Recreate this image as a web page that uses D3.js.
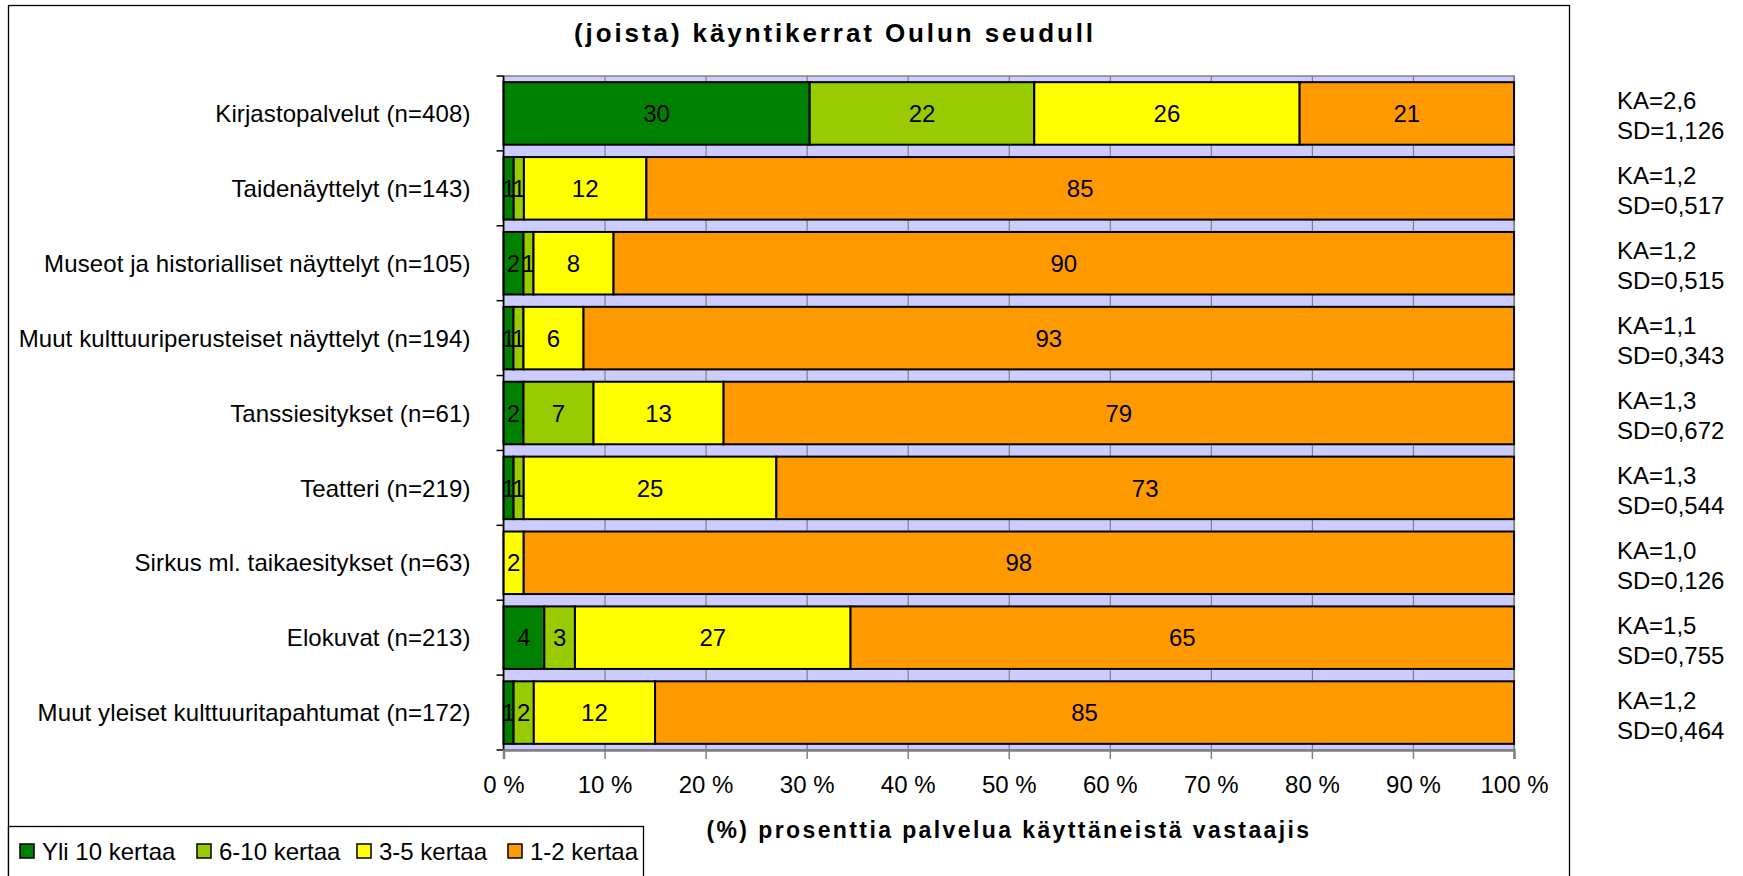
<!DOCTYPE html>
<html>
<head>
<meta charset="utf-8">
<script src="https://cdn.jsdelivr.net/npm/d3@7"></script>
<style>
  body { margin: 0; background: #fff; }
  svg { display: block; font-family: "Liberation Sans", Arial, sans-serif; }
</style>
</head>
<body>
<div id="chart"></div>
<script>
const categories = [
  "Kirjastopalvelut (n=408)",
  "Taidenäyttelyt (n=143)",
  "Museot ja historialliset näyttelyt (n=105)",
  "Muut kulttuuriperusteiset näyttelyt (n=194)",
  "Tanssiesitykset (n=61)",
  "Teatteri (n=219)",
  "Sirkus ml. taikaesitykset (n=63)",
  "Elokuvat (n=213)",
  "Muut yleiset kulttuuritapahtumat (n=172)"
];
const seriesNames = ["Yli 10 kertaa", "6-10 kertaa", "3-5 kertaa", "1-2 kertaa"];
const seriesColors = ["#008000", "#99CC00", "#FFFF00", "#FF9900"];

const yli10 = [30, 1, 2, 1, 2, 1, 0, 4, 1];
const kertaa6to10 = [22, 1, 1, 1, 7, 1, 0, 3, 2];
const kertaa3to5 = [26, 12, 8, 6, 13, 25, 2, 27, 12];
const kertaa1to2 = [21, 85, 90, 93, 79, 73, 98, 65, 85];

const kaValues = ["2,6", "1,2", "1,2", "1,1", "1,3", "1,3", "1,0", "1,5", "1,2"];
const sdValues = ["1,126", "0,517", "0,515", "0,343", "0,672", "0,544", "0,126", "0,755", "0,464"];

const xTickValues = [0, 10, 20, 30, 40, 50, 60, 70, 80, 90, 100];

const chartTitle = "(joista) käyntikerrat Oulun seudull";
const xTitle = "(%) prosenttia palvelua käyttäneistä vastaajis";

const width = 1743;
const height = 876;

const svg = d3.select("#chart").append("svg")
  .attr("width", width)
  .attr("height", height);

// table for the stack
const seriesValues = [yli10, kertaa6to10, kertaa3to5, kertaa1to2];
const table = categories.map((cat, i) => {
  const row = { category: cat };
  seriesNames.forEach((s, j) => { row[s] = seriesValues[j][i]; });
  return row;
});

const stacked = d3.stack()
  .keys(seriesNames)
  .offset(d3.stackOffsetExpand)(table);

const plot = { left: 503.5, right: 1514, top: 76, bottom: 750 };

const x = d3.scaleLinear().domain([0, 1]).range([plot.left, plot.right]);
const xPct = d3.scaleLinear().domain([0, 100]).range([plot.left, plot.right]);
const y = d3.scaleBand()
  .domain(categories)
  .range([plot.top, plot.bottom])
  .paddingInner(0.165)
  .paddingOuter(0.0825);

// outer frame
svg.append("rect")
  .attr("x", 8.5).attr("y", 5.5)
  .attr("width", 1561).attr("height", 900)
  .attr("fill", "none").attr("stroke", "#000").attr("stroke-width", 1.3);

// plot background
svg.append("rect")
  .attr("x", plot.left).attr("y", plot.top)
  .attr("width", plot.right - plot.left).attr("height", plot.bottom - plot.top)
  .attr("fill", "#CCCCFF")
  .attr("stroke", "#808080").attr("stroke-width", 1.5);

// vertical grid
svg.append("g")
  .attr("class", "grid")
  .attr("transform", "translate(0," + plot.bottom + ")")
  .call(d3.axisBottom(xPct)
    .tickValues(xTickValues)
    .tickSize(-(plot.bottom - plot.top))
    .tickFormat(""))
  .call(g => g.select(".domain").remove())
  .call(g => g.selectAll("line").attr("stroke", "#808080").attr("stroke-width", 1.2));

// bars
const layers = svg.append("g").attr("class", "charts")
  .selectAll("g")
  .data(stacked)
  .enter()
  .append("g")
  .attr("fill", (d, i) => seriesColors[i]);

layers.selectAll("rect")
  .data(d => d.filter(p => p.data[d.key] > 0))
  .enter()
  .append("rect")
  .attr("x", d => x(d[0]))
  .attr("y", d => y(d.data.category))
  .attr("width", d => x(d[1]) - x(d[0]))
  .attr("height", y.bandwidth())
  .attr("stroke", "#000")
  .attr("stroke-width", 2);

// bar labels
layers.each(function (layer) {
  d3.select(this).selectAll("text")
    .data(layer.filter(p => p.data[layer.key] > 0))
    .enter()
    .append("text")
    .attr("x", d => (x(d[0]) + x(d[1])) / 2)
    .attr("y", d => y(d.data.category) + y.bandwidth() / 2)
    .attr("dy", "0.36em")
    .attr("text-anchor", "middle")
    .attr("fill", "#000")
    .attr("font-size", 24)
    .text(d => d.data[layer.key]);
});

// left axis
const yAxis = svg.append("g")
  .attr("transform", "translate(" + plot.left + ",0)");
yAxis.append("line")
  .attr("y1", plot.top).attr("y2", plot.bottom)
  .attr("stroke", "#000").attr("stroke-width", 1.5);
yAxis.selectAll(".tick")
  .data(d3.range(categories.length + 1))
  .enter()
  .append("line")
  .attr("x1", -7).attr("x2", 0)
  .attr("y1", i => plot.top + i * y.step())
  .attr("y2", i => plot.top + i * y.step())
  .attr("stroke", "#000").attr("stroke-width", 1.5);

yAxis.selectAll("text")
  .data(categories)
  .enter()
  .append("text")
  .attr("x", -33)
  .attr("y", d => y(d) + y.bandwidth() / 2)
  .attr("dy", "0.36em")
  .attr("text-anchor", "end")
  .attr("font-size", 24)
  .attr("letter-spacing", 0.1)
  .attr("fill", "#000")
  .text(d => d);

// bottom axis
const xAxis = svg.append("g")
  .attr("transform", "translate(0," + plot.bottom + ")")
  .call(d3.axisBottom(xPct)
    .tickValues(xTickValues)
    .tickSize(9)
    .tickPadding(17)
    .tickFormat(d => d + " %"));
xAxis.select(".domain").attr("stroke", "#808080").attr("stroke-width", 2.5);
xAxis.selectAll("line").attr("stroke", "#808080").attr("stroke-width", 1.5);
xAxis.selectAll("text")
  .attr("font-size", 24)
  .attr("font-family", "Liberation Sans, Arial, sans-serif")
  .attr("fill", "#000");

// titles
svg.append("text")
  .attr("x", 835).attr("y", 42)
  .attr("text-anchor", "middle")
  .attr("font-size", 26)
  .attr("font-weight", "bold")
  .attr("letter-spacing", 2.9)
  .text(chartTitle);

svg.append("text")
  .attr("x", 1009).attr("y", 838)
  .attr("text-anchor", "middle")
  .attr("font-size", 23)
  .attr("font-weight", "bold")
  .attr("letter-spacing", 2.4)
  .text(xTitle);

// KA / SD stats
const stats = svg.append("g").attr("class", "stats");
categories.forEach((cat, i) => {
  const cy = y(cat) + y.bandwidth() / 2;
  const t = stats.append("text")
    .attr("x", 1617)
    .attr("font-size", 24)
    .attr("fill", "#000");
  t.append("tspan").attr("x", 1617).attr("y", cy - 4).text("KA=" + kaValues[i]);
  t.append("tspan").attr("x", 1617).attr("y", cy + 26).text("SD=" + sdValues[i]);
});

// legend
const legend = svg.append("g").attr("class", "legend");
legend.append("rect")
  .attr("x", 8.5).attr("y", 826.5)
  .attr("width", 635).attr("height", 70)
  .attr("fill", "#fff").attr("stroke", "#000").attr("stroke-width", 1.3);

const legendX = [20, 197, 357, 508];
const item = legend.selectAll(".item")
  .data(seriesNames)
  .enter()
  .append("g")
  .attr("class", "item")
  .attr("transform", (d, i) => "translate(" + legendX[i] + ",851)");
item.append("rect")
  .attr("x", 0).attr("y", -7)
  .attr("width", 14).attr("height", 14)
  .attr("fill", (d, i) => seriesColors[i])
  .attr("stroke", "#000").attr("stroke-width", 1.5);
item.append("text")
  .attr("x", 22).attr("y", 0)
  .attr("dy", "0.36em")
  .attr("font-size", 24)
  .attr("fill", "#000")
  .text(d => d);
</script>
</body>
</html>
